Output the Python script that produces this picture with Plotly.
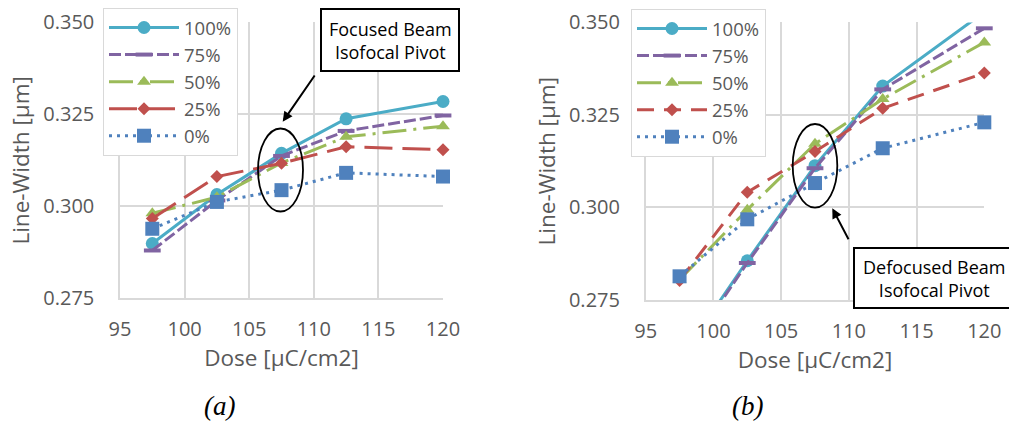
import plotly.graph_objects as go

W, H = 1009, 423

dose = [97.5, 102.5, 107.5, 112.5, 120]
series_names = ["100%", "75%", "50%", "25%", "0%"]

# Panel (a): focused beam
a_100 = [0.2899, 0.3032, 0.3144, 0.3238, 0.3285]
a_75 = [0.2880, 0.3016, 0.3137, 0.3205, 0.3247]
a_50 = [0.2981, 0.3025, 0.3118, 0.3189, 0.3218]
a_25 = [0.2967, 0.3081, 0.3117, 0.3162, 0.3154]
a_0 = [0.2939, 0.3012, 0.3044, 0.3091, 0.3081]

# Panel (b): defocused beam
b_100 = [0.2588, 0.2856, 0.3113, 0.3328, 0.3528]
b_75 = [0.2580, 0.2850, 0.3106, 0.3319, 0.3484]
b_50 = [0.2805, 0.2994, 0.3172, 0.3293, 0.3446]
b_25 = [0.2803, 0.3041, 0.3151, 0.3268, 0.3363]
b_0 = [0.2814, 0.2968, 0.3066, 0.3160, 0.3230]

x_ticks = [95, 100, 105, 110, 115, 120]
y_ticks = [0.275, 0.300, 0.325, 0.350]
y_tick_text = ["0.275", "0.300", "0.325", "0.350"]
Y_MIN, Y_MAX = 0.275, 0.350

colors = ["#4BACC6", "#8064A2", "#9BBB59", "#C0504D", "#4F81BD"]
symbols = ["circle", "line-ew", "triangle-up", "diamond", "square"]
sizes = [13, 12, 12, 10, 14]
dash_a = ["solid", "12px,4px", "24px,7px,3px,7px", "28px,10px", "3px,5px"]
dash_b = ["solid", "12px,4px", "24px,7px,3px,7px", "17px,10px", "3px,5px"]

FONT = "Open Sans"
GRAY = "#595959"

fig = go.Figure()

def add_panel(vals, dashes, xa, ya, legend):
    for i, (name, v) in enumerate(zip(series_names, vals)):
        marker = dict(symbol=symbols[i], size=sizes[i], color=colors[i],
                      opacity=1, line=dict(width=0))
        if symbols[i] == "line-ew":
            marker["line"] = dict(width=4, color=colors[i])
        kw = {}
        in_range = [k for k, val in enumerate(v) if Y_MIN <= val <= Y_MAX]
        if len(in_range) < len(v):
            # markers of points outside the value axis are not drawn (as in Excel)
            kw = dict(selectedpoints=in_range,
                      selected=dict(marker=dict(opacity=1)),
                      unselected=dict(marker=dict(opacity=0)))
        fig.add_trace(go.Scatter(
            x=dose, y=v, name=name, mode="lines+markers",
            line=dict(color=colors[i], width=3, dash=dashes[i]),
            marker=marker, xaxis=xa, yaxis=ya, legend=legend,
            cliponaxis=False, **kw,
        ))

add_panel([a_100, a_75, a_50, a_25, a_0], dash_a, "x", "y", "legend")
add_panel([b_100, b_75, b_50, b_25, b_0], dash_b, "x2", "y2", "legend2")

def xaxis(domain, anchor):
    return dict(domain=domain, anchor=anchor, range=[95, 120], automargin=False,
                tickvals=x_ticks, showgrid=True, gridcolor="#D9D9D9", gridwidth=1.5,
                showline=True, linecolor="#D9D9D9", linewidth=1.5,
                zeroline=False, ticks="outside", ticklen=12,
                tickcolor="rgba(0,0,0,0)",
                tickfont=dict(family=FONT, size=20, color=GRAY),
                title=dict(text="Dose [µC/cm2]", standoff=8,
                           font=dict(family=FONT, size=22.5, color=GRAY)))

def yaxis(domain, anchor):
    return dict(domain=domain, anchor=anchor, range=[Y_MIN, Y_MAX], automargin=False,
                tickvals=y_ticks, ticktext=y_tick_text,
                showgrid=True, gridcolor="#D9D9D9", gridwidth=1.5,
                showline=True, linecolor="#D9D9D9", linewidth=1.5,
                zeroline=False, ticks="outside", ticklen=20,
                tickcolor="rgba(0,0,0,0)",
                tickfont=dict(family=FONT, size=20, color=GRAY),
                title=dict(text="Line-Width [µm]", standoff=7,
                           font=dict(family=FONT, size=22.5, color=GRAY)))

def px(x):
    return x / W

def py(y):
    return 1 - y / H

legend_common = dict(
    xanchor="left", yanchor="top", bgcolor="white",
    bordercolor="#D9D9D9", borderwidth=1,
    font=dict(family=FONT, size=18.5, color=GRAY),
    itemwidth=70,
)

fig.update_layout(
    template="none",
    width=W, height=H,
    margin=dict(l=0, r=0, t=0, b=0, pad=0, autoexpand=False),
    paper_bgcolor="white", plot_bgcolor="white",
    xaxis=xaxis([px(120), px(443)], "y"),
    yaxis=yaxis([py(298.3), py(22.4)], "x"),
    xaxis2=xaxis([px(645.7), px(984.3)], "y2"),
    yaxis2=yaxis([py(300), py(22.4)], "x2"),
    legend=dict(x=px(103), y=py(8), **legend_common),
    legend2=dict(x=px(631), y=py(9), **legend_common),
    showlegend=True,
)

# Ellipses marking isofocal pivots
fig.add_shape(type="circle", xref="paper", yref="paper",
              x0=px(258), x1=px(303), y0=py(128.5), y1=py(211.5),
              line=dict(color="black", width=1.8))
fig.add_shape(type="circle", xref="paper", yref="paper",
              x0=px(792.7), x1=px(837.3), y0=py(124), y1=py(207.7),
              line=dict(color="black", width=1.8))

# Callout boxes
fig.add_shape(type="rect", xref="paper", yref="paper",
              x0=px(321), x1=px(459), y0=py(71), y1=py(9),
              line=dict(color="black", width=2), fillcolor="white")
fig.add_shape(type="rect", xref="paper", yref="paper",
              x0=px(854), x1=px(1012), y0=py(308), y1=py(248),
              line=dict(color="black", width=2), fillcolor="white")

fig.add_annotation(xref="paper", yref="paper", x=px(390), y=py(40),
                   text="Focused Beam<br>Isofocal Pivot", showarrow=False,
                   font=dict(family=FONT, size=18, color="black"),
                   xanchor="center", yanchor="middle")
fig.add_annotation(xref="paper", yref="paper", x=px(934), y=py(278),
                   text="Defocused Beam<br>Isofocal Pivot", showarrow=False,
                   font=dict(family=FONT, size=18, color="black"),
                   xanchor="center", yanchor="middle")

# Arrows
fig.add_annotation(xref="paper", yref="paper", x=px(282.7), y=py(121.7),
                   ax=33, ay=-47.7, text="", showarrow=True,
                   arrowhead=2, arrowsize=1, arrowwidth=2, arrowcolor="black")
fig.add_annotation(xref="paper", yref="paper", x=px(832.3), y=py(208.3),
                   ax=17, ay=32.4, text="", showarrow=True,
                   arrowhead=2, arrowsize=1, arrowwidth=2, arrowcolor="black")

# Panel labels
fig.add_annotation(xref="paper", yref="paper", x=px(219.5), y=0,
                   text="<i>(a)</i>", showarrow=False,
                   font=dict(family="Liberation Serif", size=27, color="black"),
                   xanchor="center", yanchor="bottom")
fig.add_annotation(xref="paper", yref="paper", x=px(747.8), y=0,
                   text="<i>(b)</i>", showarrow=False,
                   font=dict(family="Liberation Serif", size=27, color="black"),
                   xanchor="center", yanchor="bottom")

fig.write_html("out.html")
